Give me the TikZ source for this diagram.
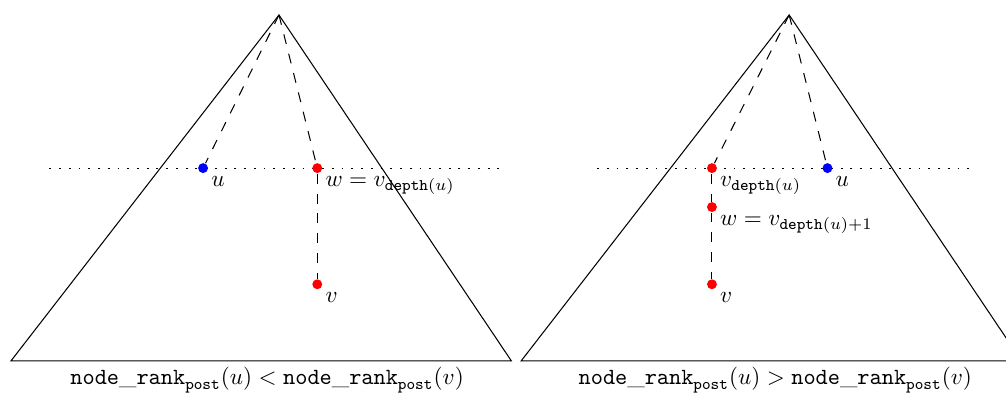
\documentclass[tikz,border=0pt]{standalone}
\begin{document}
\begin{tikzpicture}[line width=0.45pt,
  branch/.style={dash pattern=on 4.3pt off 4.3pt},
  depthline/.style={dash pattern=on 0.8pt off 3.4pt},
  vert/.style={circle,inner sep=0pt,minimum size=0.15cm},
  lbl/.style={below right}]
  \useasboundingbox (-4.227,0.227) rectangle (11.015,-5.742);

  % u comes first in post order
  \coordinate (r1) at (0,0);
  \coordinate (bl1) at (-4.06,-5.24);
  \coordinate (br1) at (3.52,-5.24);
  \draw (bl1) -- (r1) -- (br1) -- cycle;
  \coordinate (s1) at (-3.48,-2.32);
  \coordinate (e1) at (3.39,-2.32);
  \draw[depthline] (s1) -- (e1);
  \node[vert,fill=blue] (u1) at (-1.15,-2.32) {};
  \node[vert,fill=red] (w1) at (0.58,-2.32) {};
  \node[vert,fill=red] (v1) at (0.58,-4.08) {};
  \draw[branch] (r1) -- (u1);
  \draw[branch] (r1) -- (w1);
  \draw[branch] (w1) -- (v1);
  \node[lbl] (u1l) at (u1) {$u$};
  \node[lbl] (w1l) at (w1) {$w = v_{\mathtt{depth}(u)}$};
  \node[lbl] (v1l) at (v1) {$v$};
  \node (c1) at (-0.18,-5.53)
    {$\mathtt{node\_rank}_{\mathtt{post}}(u) < \mathtt{node\_rank}_{\mathtt{post}}(v)$};

  % u comes after v in post order
  \begin{scope}[xshift=7.73cm]
    \coordinate (r2) at (0,0);
    \coordinate (bl2) at (-4.06,-5.24);
    \coordinate (br2) at (3.52,-5.24);
    \draw (bl2) -- (r2) -- (br2) -- cycle;
    \coordinate (s2) at (-2.91,-2.32);
    \coordinate (e2) at (2.79,-2.32);
    \draw[depthline] (s2) -- (e2);
    \node[vert,fill=red] (d2) at (-1.17,-2.32) {};
    \node[vert,fill=blue] (u2) at (0.58,-2.32) {};
    \node[vert,fill=red] (w2) at (-1.17,-2.91) {};
    \node[vert,fill=red] (v2) at (-1.17,-4.08) {};
    \draw[branch] (r2) -- (d2);
    \draw[branch] (r2) -- (u2);
    \draw[branch] (d2) -- (w2);
    \draw[branch] (w2) -- (v2);
    \node[lbl] (d2l) at (d2) {$v_{\mathtt{depth}(u)}$};
    \node[lbl] (u2l) at (u2) {$u$};
    \node[lbl] (w2l) at (w2) {$w = v_{\mathtt{depth}(u)+1}$};
    \node[lbl] (v2l) at (v2) {$v$};
    \node (c2) at (-0.21,-5.53)
      {$\mathtt{node\_rank}_{\mathtt{post}}(u) > \mathtt{node\_rank}_{\mathtt{post}}(v)$};
  \end{scope}
\end{tikzpicture}
\end{document}
